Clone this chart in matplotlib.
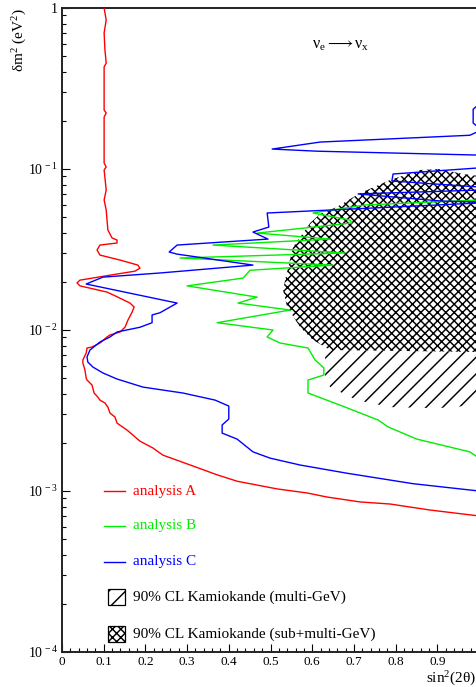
import math
import matplotlib
matplotlib.use("Agg")
import matplotlib.pyplot as plt
from matplotlib.patches import Polygon, Rectangle
from matplotlib.ticker import MultipleLocator, LogLocator, FuncFormatter, NullFormatter

plt.rcParams['font.family'] = ['Liberation Serif', 'DejaVu Serif']
plt.rcParams['mathtext.fontset'] = 'stix'
plt.rcParams['mathtext.default'] = 'regular'
plt.rcParams['hatch.linewidth'] = 1.05

# --- data: exclusion contours, sin^2(2theta) vs delta m^2 (eV^2) ---

a_sin2 = [0.101, 0.106, 0.101, 0.103, 0.106, 0.101, 0.101, 0.106, 0.101, 0.101, 0.106, 0.101,
          0.106, 0.101, 0.106, 0.110, 0.120, 0.132, 0.132, 0.091, 0.084, 0.091, 0.139, 0.182,
          0.187, 0.175, 0.115, 0.043, 0.036, 0.043, 0.108, 0.134, 0.163, 0.173, 0.168, 0.158,
          0.151, 0.139, 0.115, 0.108, 0.091, 0.072, 0.060, 0.058, 0.050, 0.050, 0.055, 0.058,
          0.060, 0.072, 0.077, 0.086, 0.091, 0.103, 0.110, 0.115, 0.127, 0.132, 0.156, 0.187,
          0.218, 0.242, 0.314, 0.372, 0.420, 0.516, 0.588, 0.635, 0.715, 0.787, 0.882, 1.0]
a_dm2 = [1.0, 0.842, 0.700, 0.548, 0.455, 0.430, 0.232, 0.223, 0.210, 0.109, 0.103, 0.0986,
         0.0740, 0.0642, 0.0556, 0.0418, 0.0373, 0.0362, 0.0347, 0.0337, 0.0314, 0.0292, 0.0272, 0.0253,
         0.0242, 0.0232, 0.0219, 0.0204, 0.0196, 0.0188, 0.0172, 0.0160, 0.0147, 0.0139, 0.0129, 0.0115,
         0.0104, 0.00972, 0.00931, 0.00905, 0.00830, 0.00784, 0.00773, 0.00720, 0.00651, 0.00624, 0.00564, 0.00503,
         0.00489, 0.00455, 0.00406, 0.00383, 0.00367, 0.00352, 0.00332, 0.00305, 0.00288, 0.00264, 0.00239, 0.00204,
         0.00185, 0.00167, 0.00143, 0.00126, 0.00115, 0.00103, 0.000972, 0.000918, 0.000855, 0.000830, 0.000762, 0.000700]

b_sin2 = [1.0, 0.727, 0.602, 0.691, 0.695, 0.468, 0.643, 0.362, 0.679, 0.283, 0.650, 0.451,
          0.434, 0.300, 0.468, 0.422, 0.547, 0.372, 0.506, 0.492, 0.523, 0.590, 0.607, 0.628,
          0.628, 0.590, 0.590, 0.679, 0.758, 0.782, 0.851, 0.978, 1.0]
b_dm2 = [0.0642, 0.0598, 0.0533, 0.0482, 0.0462, 0.0400, 0.0367, 0.0337, 0.0301, 0.0280, 0.0253, 0.0235,
         0.0210, 0.0188, 0.0160, 0.0147, 0.0133, 0.0111, 0.0100, 0.00905, 0.00830, 0.00773, 0.00651, 0.00581,
         0.00525, 0.00489, 0.00406, 0.00332, 0.00276, 0.00250, 0.00210, 0.00175, 0.00160]

c_sin2 = [1.0, 0.986, 0.986, 1.0, 1.0, 0.978, 0.619, 0.504, 0.612, 1.0, 1.0, 0.794,
          0.791, 1.0, 1.0, 0.710, 0.911, 1.0, 1.0, 0.492, 0.496, 0.458, 0.494, 0.276,
          0.257, 0.276, 0.458, 0.235, 0.098, 0.058, 0.276, 0.235, 0.216, 0.216, 0.187, 0.132,
          0.115, 0.091, 0.067, 0.060, 0.062, 0.074, 0.098, 0.132, 0.194, 0.290, 0.367, 0.400,
          0.400, 0.384, 0.384, 0.420, 0.458, 0.499, 0.571, 0.683, 0.842, 1.0]
c_dm2 = [0.253, 0.235, 0.193, 0.180, 0.172, 0.162, 0.147, 0.133, 0.129, 0.122, 0.1016, 0.0931,
         0.0842, 0.0773, 0.0740, 0.0700, 0.0632, 0.0624, 0.0615, 0.0533, 0.0436, 0.0406, 0.0367, 0.0337,
         0.0305, 0.0296, 0.0253, 0.0226, 0.0213, 0.0193, 0.0147, 0.0128, 0.0124, 0.0111, 0.0104, 0.00972,
         0.00905, 0.00842, 0.00751, 0.00680, 0.00632, 0.00589, 0.00541, 0.00496, 0.00442, 0.00406, 0.00367, 0.00337,
         0.00280, 0.00257, 0.00229, 0.00210, 0.00175, 0.00160, 0.00145, 0.00129, 0.00111, 0.00100]

# Kamiokande 90% CL allowed regions
kam_multi_sin2 = [0.631, 0.631, 0.643, 0.707, 0.787, 0.899, 1.0, 1.0]
kam_multi_dm2 = [0.0120, 0.00503, 0.00442, 0.00367, 0.00332, 0.00327, 0.00342, 0.0120]

kam_sub_sin2 = [1.0, 0.962, 0.906, 0.859, 0.787, 0.715, 0.659, 0.619, 0.595, 0.554,
                0.535, 0.530, 0.540, 0.571, 0.602, 0.643, 1.0]
kam_sub_dm2 = [0.0905, 0.0931, 0.1000, 0.0986, 0.0855, 0.0709, 0.0581, 0.0525, 0.0462, 0.0327,
               0.0204, 0.0177, 0.0139, 0.0104, 0.00867, 0.00751, 0.00730]

line_labels = ["analysis A", "analysis B", "analysis C"]
line_colors = ["#ff0000", "#00ee00", "#0000ff"]
region_labels = ["90% CL Kamiokande (multi-GeV)", "90% CL Kamiokande (sub+multi-GeV)"]


def y_label_fmt(v, pos):
    if v > 0.5:
        return "1"
    return r"$10^{\,%d}$" % round(math.log10(v))


def x_label_fmt(v, pos):
    if v > 0.95:
        return ""
    if v < 0.01:
        return "0"
    return f"{v:.1f}"


def main() -> None:
    fig = plt.figure(figsize=(4.76, 6.87), dpi=100)
    ax = fig.add_axes([62 / 476, 35 / 687, 417 / 476, 644 / 687])
    ax.set_yscale("log")
    ax.set_xlim(0, 1)
    ax.set_ylim(1e-4, 1)

    # hatched regions
    ax.add_patch(Polygon(list(zip(kam_multi_sin2, kam_multi_dm2)), closed=True,
                         facecolor="none", edgecolor="black", linewidth=0, hatch="//", zorder=1))
    ax.add_patch(Polygon(list(zip(kam_sub_sin2, kam_sub_dm2)), closed=True,
                         facecolor="white", edgecolor="black", linewidth=0, hatch="xxxx", zorder=2))

    # contours
    for xs, ys, col in zip([a_sin2, b_sin2, c_sin2], [a_dm2, b_dm2, c_dm2], line_colors):
        ax.plot(xs, ys, color=col, linewidth=1.0, zorder=3)

    # hand-placed legend (axes fraction)
    for fy, lab, col in zip([0.25, 0.1957, 0.1398], line_labels, line_colors):
        ax.plot([0.101, 0.151], [fy, fy], color=col, linewidth=1.0, transform=ax.transAxes)
        ax.text(0.170, fy, lab, color=col, fontsize=11, va="center", ha="left",
                transform=ax.transAxes)
    for fy, lab, hatch in zip([0.0855, 0.028], region_labels, ["//", "xxxx"]):
        ax.add_patch(Rectangle((0.111, fy - 0.0125), 0.041, 0.025, transform=ax.transAxes,
                               facecolor="white", edgecolor="black", linewidth=0.9, hatch=hatch))
        ax.text(0.170, fy, lab, color="black", fontsize=11, va="center", ha="left",
                transform=ax.transAxes)

    ax.text(0.600, 0.589, r"$\nu_e \longrightarrow \nu_x$", fontsize=11.5, va="center", ha="left")

    # axis labels
    ax.text(-0.10, 1.0, r"$\delta$m$^2$ (eV$^2$)", rotation=90, fontsize=11,
            va="top", ha="center", transform=ax.transAxes)
    ax.text(0.993, -0.041, r"sin$^2$(2$\theta$)", fontsize=11, va="center", ha="right",
            transform=ax.transAxes)

    # ticks
    ax.xaxis.set_major_locator(MultipleLocator(0.1))
    ax.xaxis.set_minor_locator(MultipleLocator(0.02))
    ax.xaxis.set_major_formatter(FuncFormatter(x_label_fmt))
    ax.yaxis.set_major_locator(LogLocator(base=10, numticks=10))
    ax.yaxis.set_minor_locator(LogLocator(base=10, subs=range(2, 10), numticks=20))
    ax.yaxis.set_minor_formatter(NullFormatter())
    ax.yaxis.set_major_formatter(FuncFormatter(y_label_fmt))
    ax.tick_params(which="both", direction="in", top=False, right=False, width=0.8)
    ax.tick_params(which="major", length=6, pad=3, labelsize=10)
    ax.tick_params(axis="x", which="major", labelsize=9.5)
    ax.tick_params(which="minor", length=3)

    for side in ["left", "bottom", "top", "right"]:
        ax.spines[side].set_linewidth(1.4)
        ax.spines[side].set_color("#222222")

    fig.savefig("out.png", dpi=100)


if __name__ == "__main__":
    main()
